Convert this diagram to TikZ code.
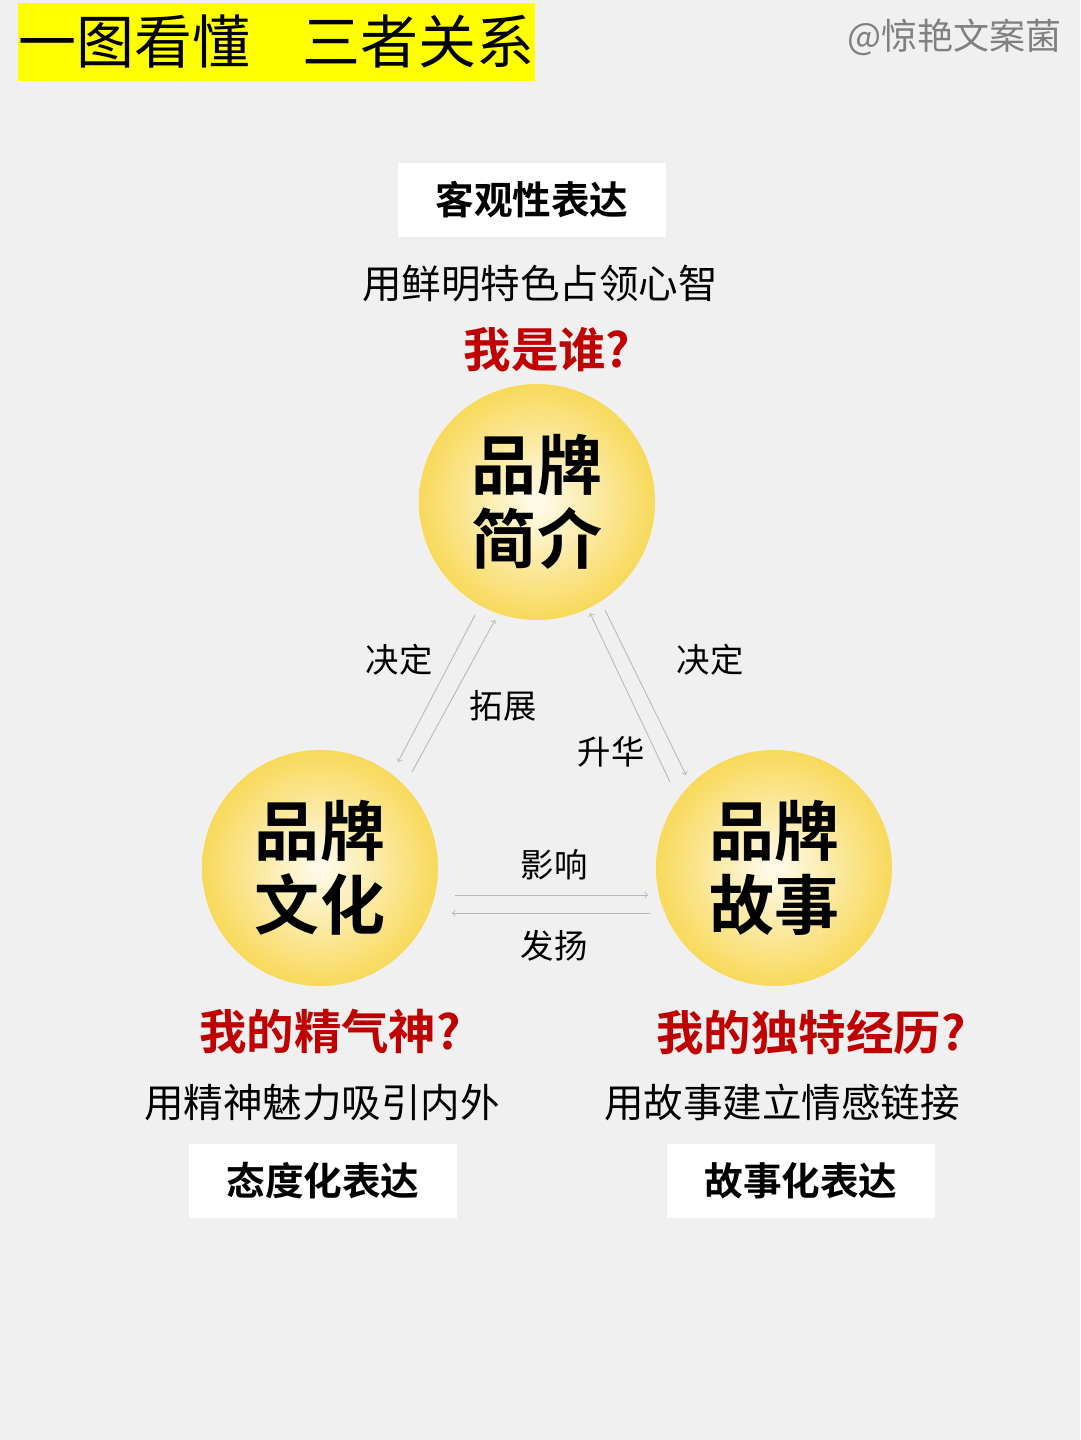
\documentclass[tikz,border=0pt]{standalone}
\usepackage{fontspec}
\setmainfont{Noto Sans CJK SC}
\newfontfamily\cjkb{Noto Sans CJK SC Bold}
\usetikzlibrary{positioning}
\definecolor{bgc}{HTML}{F0F0F0}
\definecolor{titley}{HTML}{FFFF00}
\definecolor{redt}{HTML}{C00000}
\definecolor{ringy}{HTML}{F8D95A}
\definecolor{arrg}{HTML}{B8B8B8}
\tikzset{
  ball/.style={circle,minimum size=236*0.02cm,inner color=white!90!ringy,outer color=ringy,
    font=\cjkb\fontsize{37}{42}\selectfont,align=center},
  tag/.style={fill=white,minimum width=268*0.02cm,minimum height=74*0.02cm,
    font=\cjkb\fontsize{22}{24}\selectfont},
  say/.style={font=\fontsize{22.5}{24}\selectfont},
  ask/.style={text=redt,font=\cjkb\fontsize{27}{30}\selectfont},
  lab/.style={font=\fontsize{19}{21}\selectfont},
  flow/.style={arrg,line width=0.5pt,->}
}
\begin{document}
\begin{tikzpicture}[x=0.02cm,y=-0.02cm]
\fill[bgc] (0,0) rectangle (1080,1440);

\node[fill=titley,minimum width=513*0.02cm,minimum height=78*0.02cm,inner sep=0pt,
  font=\fontsize{33}{36}\selectfont] (title) at (276.5,42) {一图看懂\hspace{0.9em}三者关系};
\node[text=gray,font=\fontsize{20.5}{22}\selectfont,anchor=east] (sign) at (1068,37) {@惊艳文案菌};

\node[tag] (t1) at (532,200) {客观性表达};
\node[say] (s1) at (540,284) {用鲜明特色占领心智};
\node[ask] (q1) at (547,350) {我是谁?};
\node[ball] (b1) at (537,502) {品牌\\简介};

\node[ball] (b2) at (320,868) {品牌\\文化};
\node[ball] (b3) at (774,868) {品牌\\故事};

%left pair
\coordinate (l1) at (475,615); \coordinate (l2) at (398,762);
\coordinate (l3) at (412,772); \coordinate (l4) at (495,620);
\draw[flow] (l1) -- (l2);
\draw[flow] (l3) -- (l4);
\node[lab] (d1) at (399,660) {决定};
\node[lab] (e1) at (503,706) {拓展};

%right pair
\coordinate (r1) at (605,610); \coordinate (r2) at (686,775);
\coordinate (r3) at (670,782); \coordinate (r4) at (590,613);
\draw[flow] (r1) -- (r2);
\draw[flow] (r3) -- (r4);
\node[lab] (d2) at (710,660) {决定};
\node[lab] (e2) at (611,752) {升华};

%bottom pair
\coordinate (m1) at (455,895); \coordinate (m2) at (648,895);
\coordinate (m3) at (650,913); \coordinate (m4) at (452,913);
\draw[flow] (m1) -- (m2);
\draw[flow] (m3) -- (m4);
\node[lab] (y1) at (554,865) {影响};
\node[lab] (y2) at (554,946) {发扬};

\node[ask] (q2) at (330,1032) {我的精气神?};
\node[say] (s2) at (322,1102) {用精神魅力吸引内外};
\node[tag] (t2) at (323,1181) {态度化表达};

\node[ask] (q3) at (811,1032) {我的独特经历?};
\node[say] (s3) at (782,1102) {用故事建立情感链接};
\node[tag] (t3) at (801,1181) {故事化表达};
\end{tikzpicture}
\end{document}
